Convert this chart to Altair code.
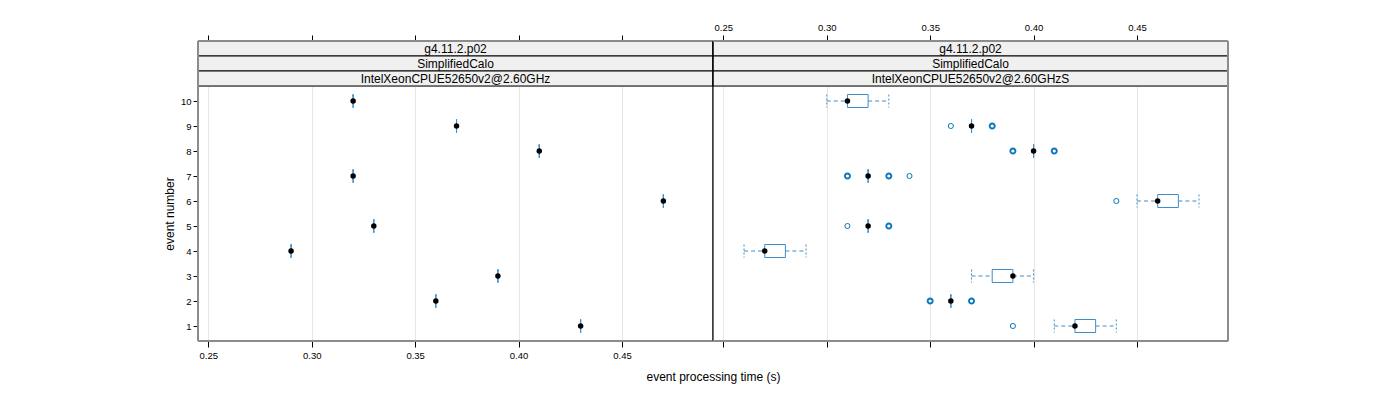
import altair as alt
import pandas as pd

# ---------------- data ----------------
events = [1, 2, 3, 4, 5, 6, 7, 8, 9, 10]

# left panel: IntelXeonCPUE52650v2@2.60GHz (single value per event)
left_values = [0.43, 0.36, 0.39, 0.29, 0.33, 0.47, 0.32, 0.41, 0.37, 0.32]

# right panel: IntelXeonCPUE52650v2@2.60GHzS (box statistics)
right_lo = [0.41, 0.36, 0.37, 0.26, 0.32, 0.45, 0.32, 0.40, 0.37, 0.30]
right_q1 = [0.42, 0.36, 0.38, 0.27, 0.32, 0.46, 0.32, 0.40, 0.37, 0.31]
right_med = [0.42, 0.36, 0.39, 0.27, 0.32, 0.46, 0.32, 0.40, 0.37, 0.31]
right_q3 = [0.43, 0.36, 0.39, 0.28, 0.32, 0.47, 0.32, 0.40, 0.37, 0.32]
right_hi = [0.44, 0.36, 0.40, 0.29, 0.32, 0.48, 0.32, 0.40, 0.37, 0.33]

right_out_event = [1, 2, 2, 2, 2, 5, 5, 5, 6, 7, 7, 7, 7, 7, 8, 8, 8, 8, 9, 9, 9]
right_out_value = [0.39, 0.35, 0.35, 0.37, 0.37, 0.31, 0.33, 0.33, 0.44,
                   0.31, 0.31, 0.33, 0.33, 0.34, 0.39, 0.39, 0.41, 0.41,
                   0.36, 0.38, 0.38]

strip_left = ["g4.11.2.p02", "SimplifiedCalo", "IntelXeonCPUE52650v2@2.60GHz"]
strip_right = ["g4.11.2.p02", "SimplifiedCalo", "IntelXeonCPUE52650v2@2.60GHzS"]

x_ticks = [0.25, 0.30, 0.35, 0.40, 0.45]
y_ticks = [1, 2, 3, 4, 5, 6, 7, 8, 9, 10]

# ---------------- styling ----------------
FONT = "Liberation Sans"
W = 515
H = 255
STRIP = 15
BOX_COL = "#3f8dc8"
OUT_COL = "#0a77bb"
FRAME_GREY = "#8c8c8c"

xscale = alt.Scale(domain=[0.245, 0.494], nice=False, zero=False)
yscale = alt.Scale(domain=[0.4, 10.6], nice=False, zero=False, padding=0)

one = pd.DataFrame({"k": [0]})


def panel(stats, outl, strips, left):
    base = alt.Chart(stats)
    layers = []

    # bottom axis (+ grid) and y axis
    bottom_axis = alt.Axis(
        orient="bottom", values=x_ticks, format=".2f", grid=True,
        gridColor="#e6e6e6", domain=False, tickSize=6, tickColor="black",
        labels=left, labelFontSize=9.5, labelPadding=3, labelColor="black",
        title="event processing time (s)" if left else "",
        titleFontSize=12, titleFontWeight="normal", titleColor="black",
        titleX=W, titleY=35, titleBaseline="middle", titleAlign="center",
    )
    if left:
        yax = alt.Y("event:Q", scale=yscale, axis=alt.Axis(
            values=y_ticks, format="d", grid=False, domain=False, tickSize=5,
            tickColor="black", labelFontSize=9.5, labelPadding=2,
            labelColor="black", title="event number", titleFontSize=12,
            titleFontWeight="normal", titleColor="black", titleX=-29,
            titleY=H / 2, titleAlign="center", titleBaseline="middle"))
    else:
        yax = alt.Y("event:Q", scale=yscale, axis=None)
    layers.append(base.mark_point(opacity=0).encode(
        x=alt.X("med:Q", scale=xscale, axis=bottom_axis, title=None), y=yax))

    # top axis
    top_axis = alt.Axis(
        orient="top", values=x_ticks, format=".2f", grid=False, domain=False,
        offset=3 * STRIP, tickSize=6, tickColor="black", labels=not left,
        labelFontSize=9.5, labelPadding=3, labelColor="black")
    layers.append(base.mark_point(opacity=0).encode(
        x=alt.X("med:Q", scale=xscale, axis=top_axis, title=None),
        y=alt.Y("event:Q", scale=yscale, axis=None)))

    # strips
    for i, lab in enumerate(strips):
        sdf = pd.DataFrame({"label": [lab]})
        layers.append(alt.Chart(sdf).mark_rect(
            fill="#f0f0f0", stroke="black", strokeWidth=1).encode(
            x=alt.value(0), x2=alt.value(W),
            y=alt.value(-3 * STRIP + i * STRIP),
            y2=alt.value(-2 * STRIP + i * STRIP)))
        layers.append(alt.Chart(sdf).mark_text(
            font=FONT, fontSize=12, color="black", baseline="middle",
            align="center").encode(
            x=alt.value(W / 2), y=alt.value(-2.5 * STRIP + i * STRIP + 0.5),
            text="label:N"))

    X = lambda f: alt.X(f + ":Q", scale=xscale, axis=None, title=None)
    Y = alt.Y("event:Q", scale=yscale, axis=None)

    # whiskers
    layers.append(base.mark_rule(color=BOX_COL, strokeDash=[4, 3], strokeWidth=1).encode(
        x=X("lo"), x2="q1:Q", y=Y))
    layers.append(base.mark_rule(color=BOX_COL, strokeDash=[4, 3], strokeWidth=1).encode(
        x=X("q3"), x2="hi:Q", y=Y))
    # whisker end caps
    for f in ["lo", "hi"]:
        layers.append(base.mark_rule(color=BOX_COL, strokeDash=[2, 2], strokeWidth=1,
                                     yOffset=-6.5, y2Offset=6.5).encode(
            x=X(f), y=Y, y2="event:Q"))
    # boxes
    layers.append(base.mark_bar(orient="horizontal", size=13, fill="white",
                                stroke=BOX_COL, strokeWidth=1).encode(
        x=X("q1"), x2="q3:Q", y=Y))

    # outliers
    if outl is not None:
        layers.append(alt.Chart(outl).transform_aggregate(
            n="count()", groupby=["event", "value"]).mark_point(
            shape="circle", filled=False, size=26, color=OUT_COL, opacity=1).encode(
            x=X("value"), y=Y,
            strokeWidth=alt.StrokeWidth("n:Q", scale=alt.Scale(domain=[1, 2], range=[1.0, 1.9]),
                                        legend=None)))

    # medians
    layers.append(base.mark_circle(color="black", size=30, opacity=1).encode(
        x=X("med"), y=Y))

    # frame
    layers.append(alt.Chart(one).mark_rect(fillOpacity=0, stroke="black", strokeWidth=1).encode(
        x=alt.value(0), x2=alt.value(W), y=alt.value(-3 * STRIP), y2=alt.value(H)))
    grey = dict(color=FRAME_GREY, strokeWidth=2)
    layers.append(alt.Chart(one).mark_rule(**grey).encode(
        x=alt.value(0), x2=alt.value(W), y=alt.value(-3 * STRIP)))
    layers.append(alt.Chart(one).mark_rule(**grey).encode(
        x=alt.value(0), x2=alt.value(W), y=alt.value(H)))
    edge = 0 if left else W
    layers.append(alt.Chart(one).mark_rule(**grey).encode(
        x=alt.value(edge), y=alt.value(-3 * STRIP), y2=alt.value(H)))

    return alt.layer(*layers).resolve_axis(x="independent", y="independent").properties(
        width=W, height=H)


left_df = pd.DataFrame({"event": events, "lo": left_values, "q1": left_values,
                        "med": left_values, "q3": left_values, "hi": left_values})
right_df = pd.DataFrame({"event": events, "lo": right_lo, "q1": right_q1,
                         "med": right_med, "q3": right_q3, "hi": right_hi})
right_out = pd.DataFrame({"event": right_out_event, "value": right_out_value})

chart = alt.hconcat(
    panel(left_df, None, strip_left, True),
    panel(right_df, right_out, strip_right, False),
    spacing=0,
    bounds="flush",
).configure_view(stroke="transparent").configure(
    font=FONT, background="white",
    padding={"left": 154, "top": 13, "right": 5, "bottom": 5},
)

chart.save("out.html", embed_options={"renderer": "svg", "actions": False})
